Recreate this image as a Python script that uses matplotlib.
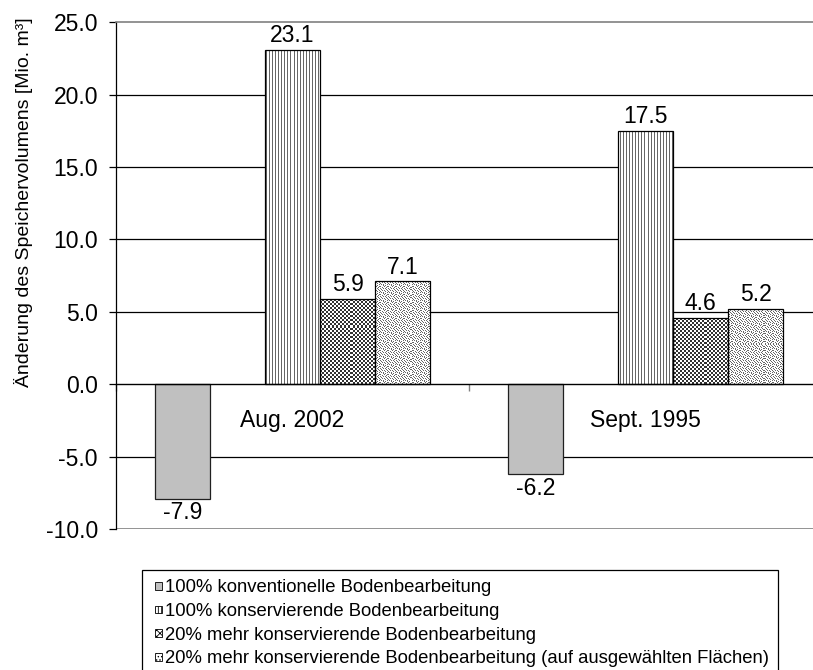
import matplotlib
matplotlib.use("Agg")
import matplotlib.pyplot as plt
import numpy as np
from matplotlib.patches import Patch, Rectangle
from matplotlib.legend_handler import HandlerPatch

plt.rcParams['font.family'] = ['Liberation Sans', 'DejaVu Sans']
plt.rcParams['hatch.linewidth'] = 0.6

periods = ['Aug. 2002', 'Sept. 1995']
conventional = [-7.9, -6.2]
conserving = [23.1, 17.5]
more_conserving = [5.9, 4.6]
more_selected = [7.1, 5.2]

series_labels = [
    '100% konventionelle Bodenbearbeitung',
    '100% konservierende Bodenbearbeitung',
    '20% mehr konservierende Bodenbearbeitung',
    '20% mehr konservierende Bodenbearbeitung (auf ausgewählten Flächen)',
]

yticks = np.arange(-10, 25.1, 5)

# fill textures (1 array cell = 1 screen pixel)
vert_tile = np.array([[0.4, 1.0, 1.0]])
check_tile = np.kron(np.array([[0.2, 1.0], [1.0, 0.2]]), np.ones((2, 2)))
dots_rows = [
    "#...#..#",
    "..#...#.",
    "#..#.#..",
    ".#....#.",
    "..#.#..#",
    "#....#..",
    ".#.#...#",
    "...#.#..",
]
dots_tile = np.array([[0.4 if c == '#' else 1.0 for c in r] for r in dots_rows])

fig = plt.figure(figsize=(8.13, 6.7), dpi=100)
ax = fig.add_axes([0.1427, 0.2104, 0.8683, 0.7566])

H = int(round(ax.bbox.height))
W = int(round(ax.bbox.width))


def texture(tile):
    th, tw = tile.shape
    return np.tile(tile, (H // th + 1, W // tw + 1))[:H, :W]


x = np.arange(len(periods)) + 0.5
w = 0.156

ax.bar(x - 2 * w, conventional, w, color='#c0c0c0', edgecolor='#202020',
       linewidth=0.9, zorder=2)

textured = [(conserving, vert_tile), (more_conserving, check_tile),
            (more_selected, dots_tile)]
for k, (vals, tile) in enumerate(textured):
    pos = x + k * w
    bars = ax.bar(pos, vals, w, color='white', edgecolor='none', zorder=2)
    tex = texture(tile)
    for b in bars:
        im = ax.imshow(tex, cmap='gray', vmin=0, vmax=1, extent=(0, 1, 0, 1),
                       transform=ax.transAxes, aspect='auto',
                       interpolation='nearest', zorder=2.2)
        im.set_clip_path(b)
    ax.bar(pos, vals, w, fill=False, edgecolor='black', linewidth=0.9,
           zorder=3)

# value labels
all_pos = [x - 2 * w, x, x + w, x + 2 * w]
all_vals = [conventional, conserving, more_conserving, more_selected]
for pos, vals in zip(all_pos, all_vals):
    for p, v in zip(pos, vals):
        ax.annotate(f'{v:.1f}', (p, v), xytext=(0, 2 if v > 0 else -2),
                    textcoords='offset points', ha='center',
                    va='bottom' if v > 0 else 'top', fontsize=16.5)

ax.set_xlim(0, len(periods))
ax.set_ylim(yticks[0], yticks[-1])
ax.set_yticks(yticks)
ax.set_yticklabels([f'{t:.1f}' for t in yticks])

# inner gridlines, grey frame lines top and bottom
for t in yticks[1:-1]:
    if t != 0:
        ax.axhline(t, color='black', linewidth=0.9, zorder=0.5)
ax.axhline(yticks[0], color='#808080', linewidth=1.2, zorder=0.5)

ax.spines['right'].set_visible(False)
ax.spines['top'].set_color('#808080')
ax.spines['top'].set_linewidth(1.2)
ax.spines['left'].set_color('black')
ax.spines['left'].set_linewidth(0.9)
ax.spines['bottom'].set_position(('data', 0))
ax.spines['bottom'].set_color('black')
ax.spines['bottom'].set_linewidth(1.0)

ax.set_xticks(np.arange(len(periods) + 1))
ax.set_xticklabels([])
ax.set_xticks(x, minor=True)
ax.set_xticklabels(periods, minor=True)
ax.tick_params(axis='x', which='major', direction='out', length=5,
               width=1, color='#808080')
ax.tick_params(axis='x', which='minor', length=0, pad=18, labelsize=16.5)
ax.tick_params(axis='y', direction='out', length=5, width=0.9, pad=8,
               labelsize=16.5)

ax.set_ylabel('Änderung des Speichervolumens [Mio. m³]', fontsize=14)
ax.yaxis.set_label_coords(-0.118, 0.645)


def square_handle(legend, orig_handle, xdescent, ydescent, width, height,
                  fontsize):
    s = 0.42 * fontsize
    return Rectangle((width - s - xdescent, (height - s) / 2 - ydescent), s, s)


handles = [
    Patch(facecolor='#c0c0c0', edgecolor='black', linewidth=0.6),
    Patch(facecolor='white', edgecolor='black', hatch='|||||', linewidth=0.6),
    Patch(facecolor='white', edgecolor='black', hatch='xxxxx', linewidth=0.6),
    Patch(facecolor='white', edgecolor='black', hatch='.....', linewidth=0.6),
]
leg = fig.legend(handles, series_labels, loc='upper left',
                 bbox_to_anchor=(142 / 813, 1 - 570 / 670), fontsize=13.3,
                 frameon=True, fancybox=False, edgecolor='black',
                 framealpha=1, labelspacing=0.36, handlelength=0.6,
                 handleheight=0.7, handletextpad=0.15, borderpad=0.5,
                 borderaxespad=0,
                 handler_map={Patch: HandlerPatch(patch_func=square_handle)})
leg.get_frame().set_linewidth(0.9)

fig.savefig('out.png', dpi=100)
